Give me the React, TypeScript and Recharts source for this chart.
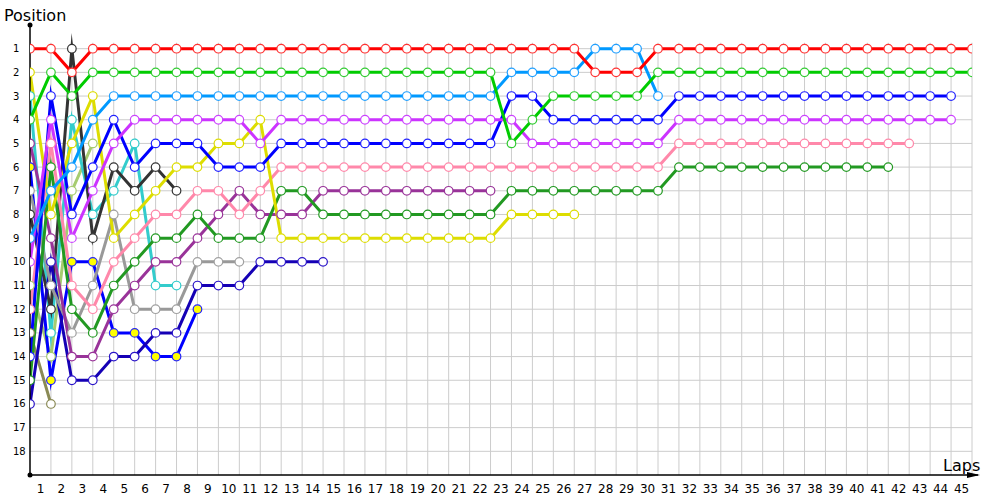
import React from 'react';
import { LineChart, Line, XAxis, YAxis, ReferenceLine } from 'recharts';

// running position after each lap, index 0 = starting grid
const red = [1, 1, 2, 1, 1, 1, 1, 1, 1, 1, 1, 1, 1, 1, 1, 1, 1, 1, 1, 1, 1, 1, 1, 1, 1, 1, 1, 2, 2, 2, 1, 1, 1, 1, 1, 1, 1, 1, 1, 1, 1, 1, 1, 1, 1, 1];
const brightGreen = [4, 2, 3, 2, 2, 2, 2, 2, 2, 2, 2, 2, 2, 2, 2, 2, 2, 2, 2, 2, 2, 2, 2, 5, 4, 3, 3, 3, 3, 3, 2, 2, 2, 2, 2, 2, 2, 2, 2, 2, 2, 2, 2, 2, 2, 2];
const lightBlue = [9, 7, 6, 4, 3, 3, 3, 3, 3, 3, 3, 3, 3, 3, 3, 3, 3, 3, 3, 3, 3, 3, 3, 2, 2, 2, 2, 1, 1, 1, 3];
const magenta = [10, 4, 9, 7, 5, 4, 4, 4, 4, 4, 4, 5, 4, 4, 4, 4, 4, 4, 4, 4, 4, 4, 4, 4, 5, 5, 5, 5, 5, 5, 5, 4, 4, 4, 4, 4, 4, 4, 4, 4, 4, 4, 4, 4, 4];
const blue = [14, 3, 8, 6, 4, 6, 5, 5, 5, 6, 6, 6, 5, 5, 5, 5, 5, 5, 5, 5, 5, 5, 5, 3, 3, 4, 4, 4, 4, 4, 4, 3, 3, 3, 3, 3, 3, 3, 3, 3, 3, 3, 3, 3, 3];
const yellow = [2, 8, 5, 3, 9, 8, 7, 6, 6, 5, 5, 4, 9, 9, 9, 9, 9, 9, 9, 9, 9, 9, 9, 8, 8, 8, 8];
const pink = [12, 5, 11, 12, 10, 9, 8, 8, 7, 7, 8, 7, 6, 6, 6, 6, 6, 6, 6, 6, 6, 6, 6, 6, 6, 6, 6, 6, 6, 6, 6, 5, 5, 5, 5, 5, 5, 5, 5, 5, 5, 5, 5];
const darkGreen = [15, 6, 12, 13, 11, 10, 9, 9, 8, 9, 9, 9, 7, 7, 8, 8, 8, 8, 8, 8, 8, 8, 8, 7, 7, 7, 7, 7, 7, 7, 7, 6, 6, 6, 6, 6, 6, 6, 6, 6, 6, 6];
const darkPurple = [5, 9, 14, 14, 12, 11, 10, 10, 9, 8, 7, 8, 8, 8, 7, 7, 7, 7, 7, 7, 7, 7, 7];
const gray = [7, 11, 13, 11, 8, 12, 12, 12, 10, 10, 10];
const navy = [16, 10, 15, 15, 14, 14, 13, 13, 11, 11, 11, 10, 10, 10, 10];
const blueYellow = [6, 15, 10, 10, 13, 13, 14, 14, 12];
const black = [8, 12, 1, 9, 6, 7, 6, 7];
const cyan = [3, 13, 4, 8, 7, 5, 11, 11];
const lightGreen = [11, 14, 7, 5];
const olive = [13, 16];

const positionTicks = [1, 2, 3, 4, 5, 6, 7, 8, 9, 10, 11, 12, 13, 14, 15, 16, 17, 18];
const lapCount = 45;
// lap labels sit between the grid lines
const lapTicks = Array.from({ length: lapCount }, (_, i) => i + 0.5);
const lapLines = Array.from({ length: lapCount }, (_, i) => i + 1);

const series = [
  { name: 'olive', values: olive, color: '#8a8a55', dot: '#8a8a55', fill: '#fff' },
  { name: 'lightGreen', values: lightGreen, color: '#a6cc70', dot: '#a6cc70', fill: '#fff' },
  { name: 'cyan', values: cyan, color: '#33cccc', dot: '#33cccc', fill: '#fff' },
  { name: 'black', values: black, color: '#333333', dot: '#333333', fill: '#fff' },
  { name: 'blueYellow', values: blueYellow, color: '#0000ff', dot: '#2222ff', fill: '#ffff00' },
  { name: 'navy', values: navy, color: '#1500b5', dot: '#2a14c8', fill: '#fff' },
  { name: 'gray', values: gray, color: '#999999', dot: '#a0a0a0', fill: '#fff' },
  { name: 'darkPurple', values: darkPurple, color: '#993399', dot: '#993399', fill: '#fff' },
  { name: 'darkGreen', values: darkGreen, color: '#229922', dot: '#229922', fill: '#fff' },
  { name: 'pink', values: pink, color: '#ff88aa', dot: '#ff88aa', fill: '#fff' },
  { name: 'yellow', values: yellow, color: '#dddd00', dot: '#dddd00', fill: '#fff' },
  { name: 'blue', values: blue, color: '#0000ff', dot: '#2222ff', fill: '#fff' },
  { name: 'magenta', values: magenta, color: '#cc33ff', dot: '#cc44ff', fill: '#fff' },
  { name: 'lightBlue', values: lightBlue, color: '#0099ff', dot: '#22a0ff', fill: '#fff' },
  { name: 'brightGreen', values: brightGreen, color: '#00cc00', dot: '#33cc33', fill: '#fff' },
  { name: 'red', values: red, color: '#ff0000', dot: '#ff3333', fill: '#fff' },
];

const tickFont = 'Tahoma, "DejaVu Sans", sans-serif';

const LeftTick = (props: any) => (
  <text x={13} y={props.y} dy="0.35em" fontSize={10} fontFamily={tickFont} fill="#000">
    {props.payload.value}
  </text>
);

const RightTick = (props: any) => (
  <text x={977} y={props.y} dy="0.35em" fontSize={10} fontFamily={tickFont} fill="#000">
    {props.payload.value}
  </text>
);

const App: React.FC = () => {
  return (
    <div style={{ position: 'absolute', left: 0, top: 0, width: 1000, height: 500, background: '#fff' }}>
      <LineChart width={1000} height={500} margin={{ top: 25, right: 0, bottom: 0, left: 0 }}>
        <XAxis
          type="number"
          dataKey="lap"
          domain={[0, lapCount]}
          ticks={lapTicks}
          tickFormatter={(v: number) => String(v + 0.5)}
          interval={0}
          height={25}
          axisLine={{ stroke: '#000', strokeWidth: 1.5 }}
          tickLine={false}
          tickMargin={3}
          tick={{ fontSize: 12, fontFamily: tickFont, fill: '#000' }}
          allowDataOverflow
        />
        <YAxis
          type="number"
          domain={[0, 19]}
          reversed
          ticks={positionTicks}
          interval={0}
          width={30}
          axisLine={{ stroke: '#000', strokeWidth: 1.5 }}
          tickLine={false}
          tick={<LeftTick />}
          allowDataOverflow
        />
        <YAxis
          yAxisId="r"
          orientation="right"
          type="number"
          domain={[0, 19]}
          reversed
          ticks={positionTicks}
          interval={0}
          width={28}
          axisLine={false}
          tickLine={false}
          tick={<RightTick />}
        />
        {positionTicks.map(p => (
          <ReferenceLine key={'h' + p} y={p} stroke="#cccccc" strokeWidth={1} />
        ))}
        {lapLines.map(l => (
          <ReferenceLine
            key={'v' + l}
            segment={[{ x: l, y: 0.75 }, { x: l, y: 19 }]}
            stroke="#cccccc"
            strokeWidth={1}
          />
        ))}
        {series.map(s => (
          <Line
            key={s.name}
            data={s.values.map((pos, lap) => ({ lap, pos }))}
            dataKey="pos"
            type="linear"
            stroke={s.color}
            strokeWidth={3}
            strokeMiterlimit={12}
            dot={{ r: 4.3, fill: s.fill, stroke: s.dot, strokeWidth: 1.2 }}
            activeDot={false}
            isAnimationActive={false}
          />
        ))}
      </LineChart>
      <svg
        width={1000}
        height={500}
        style={{ position: 'absolute', left: 0, top: 0, pointerEvents: 'none' }}
      >
        <line x1={972} y1={475} x2={978} y2={475} stroke="#000" strokeWidth={1.5} />
        <polygon points="980,475 967,472 967,478" fill="#000" />
        <circle cx={30} cy={25} r={2.5} fill="#000" />
        <circle cx={30} cy={475} r={2.5} fill="#000" />
        <text x={4} y={21} fontSize={16} fontFamily={tickFont} fill="#000">Position</text>
        <text x={943} y={471} fontSize={16} fontFamily={tickFont} fill="#000">Laps</text>
      </svg>
    </div>
  );
};

export default App;
